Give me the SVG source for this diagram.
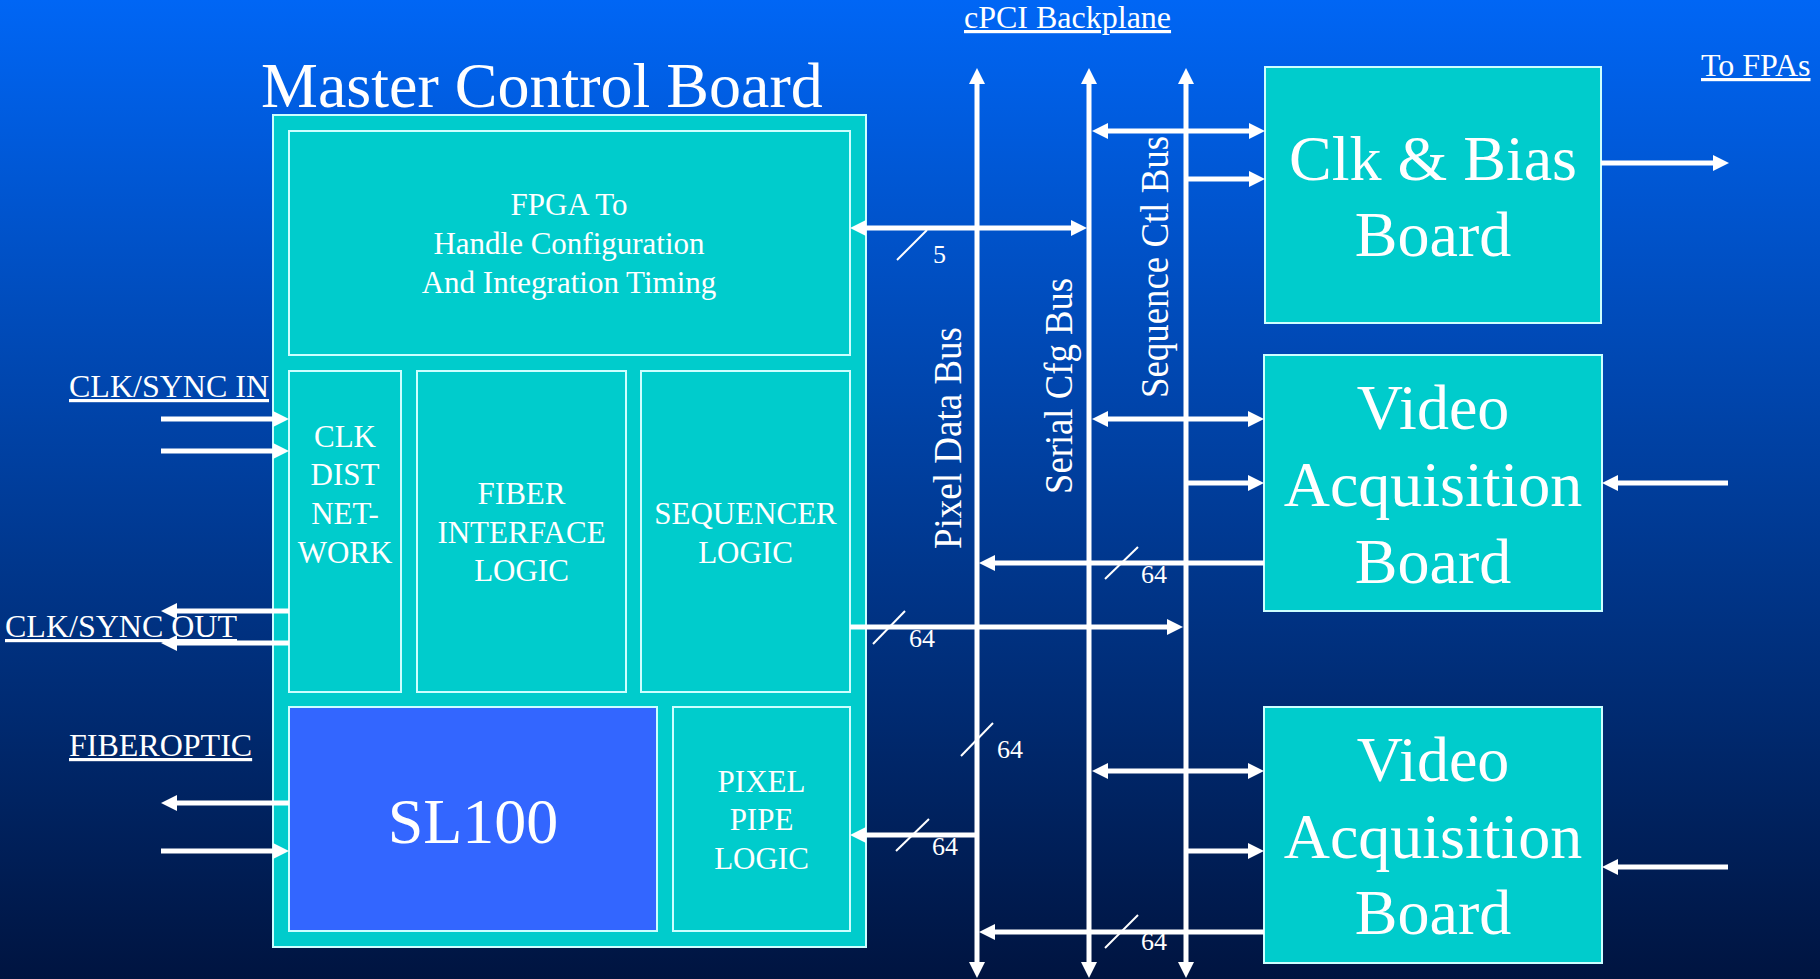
<svg xmlns="http://www.w3.org/2000/svg" width="1820" height="979" viewBox="0 0 1820 979">
<defs>
<linearGradient id="bg" x1="0" y1="0" x2="0" y2="1">
<stop offset="0" stop-color="#0066f5"/>
<stop offset="1" stop-color="#001440"/>
</linearGradient>
<marker id="ah" viewBox="0 0 16 16" markerWidth="16" markerHeight="16" refX="0" refY="8" orient="auto-start-reverse" markerUnits="userSpaceOnUse">
<path d="M0,0 L16,8 L0,16 z" fill="#ffffff"/>
</marker>
<style>
.box{fill:#00cccc;stroke:#ccffff;stroke-width:2}
.sl{fill:#3366ff;stroke:#ccffff;stroke-width:2}
.t{font-family:"Liberation Serif","Times New Roman",serif;fill:#ffffff}
.m{text-anchor:middle}
.s31{font-size:31px}
.s64{font-size:64px}
.lbl{font-size:32px;text-decoration:underline}
.num{font-size:26px}
.rot{font-size:40px}
.a{stroke:#ffffff;stroke-width:5;fill:none}
.ae{marker-end:url(#ah)}
.ab{marker-start:url(#ah);marker-end:url(#ah)}
.slash{stroke:#ffffff;stroke-width:2}
</style>
</defs>
<rect x="0" y="0" width="1820" height="979" fill="url(#bg)"/>

<text class="t" x="261" y="107" font-size="64">Master Control Board</text>
<text class="t lbl" x="964" y="28">cPCI Backplane</text>
<text class="t lbl" x="1701" y="76">To FPAs</text>
<text class="t lbl" x="69" y="397">CLK/SYNC IN</text>
<text class="t lbl" x="5" y="637">CLK/SYNC OUT</text>
<text class="t lbl" x="69" y="756">FIBEROPTIC</text>

<g id="master">
<rect class="box" x="273" y="115" width="593" height="832"/>
</g>
<g id="fpga">
<rect class="box" x="289" y="131" width="561" height="224"/>
<text class="t m s31" x="569" y="215">FPGA To</text>
<text class="t m s31" x="569" y="254">Handle Configuration</text>
<text class="t m s31" x="569" y="293">And Integration Timing</text>
</g>
<g id="clkdist">
<rect class="box" x="289" y="371" width="112" height="321"/>
<text class="t m s31" x="345" y="447">CLK</text>
<text class="t m s31" x="345" y="485">DIST</text>
<text class="t m s31" x="345" y="524">NET-</text>
<text class="t m s31" x="345" y="563">WORK</text>
</g>
<g id="fiber">
<rect class="box" x="417" y="371" width="209" height="321"/>
<text class="t m s31" x="521.5" y="504">FIBER</text>
<text class="t m s31" x="521.5" y="543">INTERFACE</text>
<text class="t m s31" x="521.5" y="581">LOGIC</text>
</g>
<g id="sequencer">
<rect class="box" x="641" y="371" width="209" height="321"/>
<text class="t m s31" x="745.5" y="524">SEQUENCER</text>
<text class="t m s31" x="745.5" y="563">LOGIC</text>
</g>
<g id="sl100">
<rect class="sl" x="289" y="707" width="368" height="224"/>
<text class="t m" x="473" y="843" font-size="64">SL100</text>
</g>
<g id="pixelpipe">
<rect class="box" x="673" y="707" width="177" height="224"/>
<text class="t m s31" x="761.5" y="792">PIXEL</text>
<text class="t m s31" x="761.5" y="830">PIPE</text>
<text class="t m s31" x="761.5" y="869">LOGIC</text>
</g>
<g id="clkbias">
<rect class="box" x="1265" y="67" width="336" height="256"/>
<text class="t m s64" x="1433" y="180">Clk &amp; Bias</text>
<text class="t m s64" x="1433" y="256">Board</text>
</g>
<g id="vab1">
<rect class="box" x="1264" y="355" width="338" height="256"/>
<text class="t m s64" x="1433" y="429">Video</text>
<text class="t m s64" x="1433" y="506">Acquisition</text>
<text class="t m s64" x="1433" y="583">Board</text>
</g>
<g id="vab2">
<rect class="box" x="1264" y="707" width="338" height="256"/>
<text class="t m s64" x="1433" y="781">Video</text>
<text class="t m s64" x="1433" y="858">Acquisition</text>
<text class="t m s64" x="1433" y="934">Board</text>
</g>

<g id="connectors">
<line class="a ab" x1="977" y1="84" x2="977" y2="962"/>
<line class="a ab" x1="1089" y1="84" x2="1089" y2="962"/>
<line class="a ab" x1="1186" y1="84" x2="1186" y2="962"/>

<line class="a ab" x1="866" y1="228" x2="1071" y2="228"/>
<line class="a ab" x1="1108" y1="131" x2="1249" y2="131"/>
<line class="a ae" x1="1188" y1="179" x2="1249" y2="179"/>
<line class="a ae" x1="1601" y1="163" x2="1713" y2="163"/>

<line class="a ab" x1="1108" y1="419" x2="1248" y2="419"/>
<line class="a ae" x1="1188" y1="483" x2="1248" y2="483"/>
<line class="a ae" x1="1728" y1="483" x2="1618" y2="483"/>
<line class="a ae" x1="1264" y1="563" x2="995" y2="563"/>
<line class="a ae" x1="850" y1="627" x2="1167" y2="627"/>
<line class="a ae" x1="977" y1="835" x2="866" y2="835"/>

<line class="a ab" x1="1108" y1="771" x2="1248" y2="771"/>
<line class="a ae" x1="1188" y1="851" x2="1248" y2="851"/>
<line class="a ae" x1="1728" y1="867" x2="1618" y2="867"/>
<line class="a ae" x1="1264" y1="932" x2="995" y2="932"/>

<line class="a ae" x1="161" y1="419" x2="273" y2="419"/>
<line class="a ae" x1="161" y1="451" x2="273" y2="451"/>
<line class="a ae" x1="289" y1="611" x2="177" y2="611"/>
<line class="a ae" x1="289" y1="643" x2="177" y2="643"/>
<line class="a ae" x1="289" y1="803" x2="177" y2="803"/>
<line class="a ae" x1="161" y1="851" x2="273" y2="851"/>

<line class="slash" x1="897" y1="260" x2="927" y2="230"/>
<line class="slash" x1="1105" y1="579" x2="1138" y2="547"/>
<line class="slash" x1="873" y1="644" x2="905" y2="611"/>
<line class="slash" x1="961" y1="756" x2="993" y2="723"/>
<line class="slash" x1="896" y1="851" x2="929" y2="819"/>
<line class="slash" x1="1105" y1="948" x2="1138" y2="915"/>

<text class="t num" x="933" y="263">5</text>
<text class="t num" x="1141" y="583">64</text>
<text class="t num" x="909" y="647">64</text>
<text class="t num" x="997" y="758">64</text>
<text class="t num" x="932" y="855">64</text>
<text class="t num" x="1141" y="950">64</text>

<text class="t rot" transform="translate(961,549) rotate(-90)" textLength="222" lengthAdjust="spacingAndGlyphs">Pixel Data Bus</text>
<text class="t rot" transform="translate(1072,494) rotate(-90)" textLength="216" lengthAdjust="spacingAndGlyphs">Serial Cfg Bus</text>
<text class="t rot" transform="translate(1168,398) rotate(-90)" textLength="262" lengthAdjust="spacingAndGlyphs">Sequence Ctl Bus</text>
</g>
</svg>
